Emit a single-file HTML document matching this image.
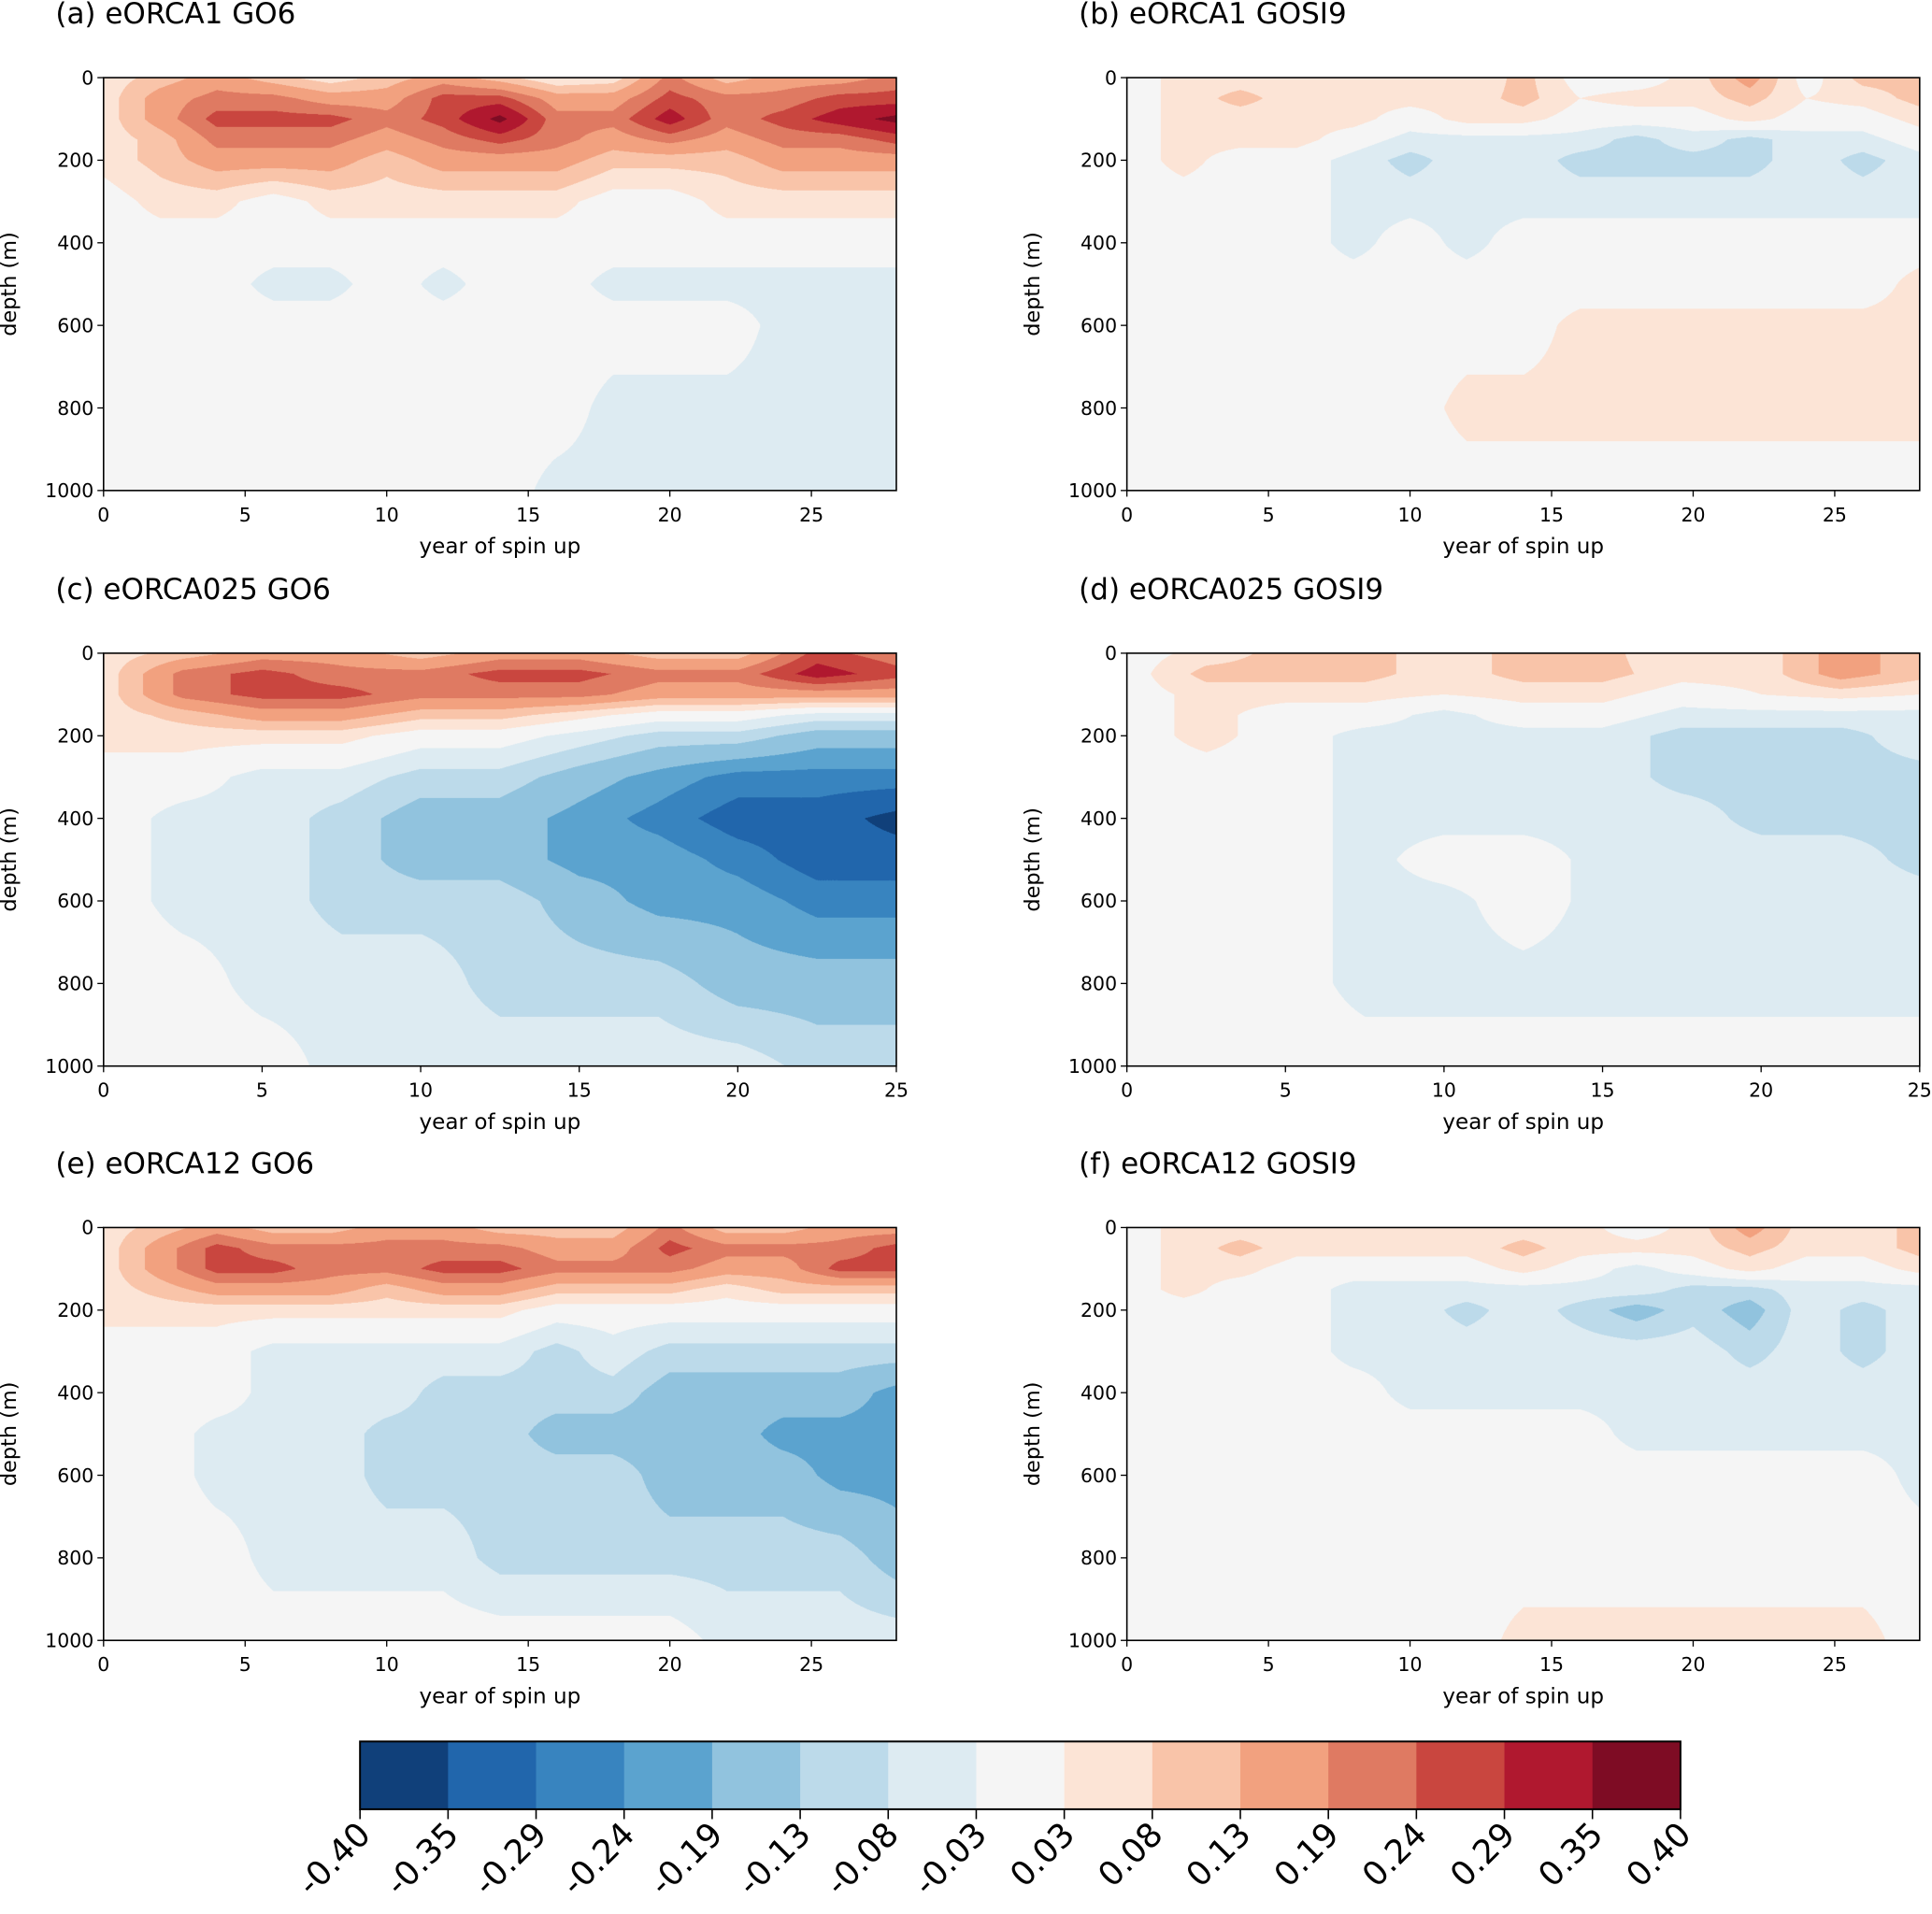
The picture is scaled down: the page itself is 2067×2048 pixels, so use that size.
<!DOCTYPE html>
<html><head><meta charset="utf-8">
<style>
html,body{margin:0;padding:0;background:#fff;}
#root{position:absolute;left:0;top:0;width:1567px;height:1553px;transform:scale(1.31908,1.31874);transform-origin:0 0;}
canvas{position:absolute;}
svg{position:absolute;left:0;top:0;}
text{font-family:"DejaVu Sans","Liberation Sans",sans-serif;fill:#000;}
</style></head>
<body>
<div id="root">
<svg id="ov" width="1567" height="1553" viewBox="0 0 1567 1553"></svg>
</div>
<script>
const LEVELS=[-0.40,-0.35,-0.29,-0.24,-0.19,-0.13,-0.08,-0.03,0.03,0.08,0.13,0.19,0.24,0.29,0.35,0.40];
const LEVEL_LABELS=["-0.40","-0.35","-0.29","-0.24","-0.19","-0.13","-0.08","-0.03","0.03","0.08","0.13","0.19","0.24","0.29","0.35","0.40"];
const COLORS=["#10407a","#2166ac","#3884bf","#5ba3cf","#91c3de","#bcdaea","#ddebf2","#f5f5f5","#fce4d6","#f9c4a9","#f2a17f","#df7a62","#c9463f","#b0182f","#7e0c24"];
const DEPTHS=[0,50,100,150,200,300,400,500,600,800,1000];
const YEARS28=[0,2,4,6,8,10,12,14,16,18,20,22,24,26,28];
const YEARS25=[0,2.5,5,7.5,10,12.5,15,17.5,20,22.5,25];
const Y_TICKS=[0,200,400,600,800,1000];
const X_TICKS28=[0,5,10,15,20,25];
const X_TICKS25=[0,5,10,15,20,25];

const valsA=[
[0.05,0.10,0.16,0.10,0.05,0.10,0.16,0.10,0.03,0.05,0.21,0.10,0.16,0.16,0.21],
[0.05,0.16,0.21,0.21,0.16,0.16,0.26,0.26,0.16,0.16,0.26,0.21,0.21,0.26,0.26],
[0.05,0.16,0.26,0.26,0.26,0.21,0.26,0.37,0.21,0.21,0.32,0.21,0.26,0.32,0.37],
[0.05,0.10,0.21,0.21,0.21,0.16,0.21,0.26,0.21,0.16,0.21,0.16,0.21,0.21,0.26],
[0.05,0.10,0.16,0.16,0.16,0.10,0.16,0.16,0.16,0.10,0.10,0.10,0.16,0.16,0.16],
[0.00,0.05,0.05,0.00,0.05,0.05,0.05,0.05,0.05,0.00,0.00,0.05,0.05,0.05,0.05],
[0,0,0,0,0,0,0,0,0,0,0,0,0,0,0],
[0,0,0,-0.05,-0.05,0,-0.05,0,0,-0.05,-0.05,-0.05,-0.05,-0.05,-0.05],
[0,0,0,0,0,0,0,0,0,0,0,0,-0.05,-0.05,-0.05],
[0,0,0,0,0,0,0,0,0,-0.05,-0.05,-0.05,-0.05,-0.05,-0.05],
[0,0,0,0,0,0,0,0,-0.05,-0.05,-0.05,-0.05,-0.05,-0.05,-0.05]];
const valsB=[
[0,0.05,0.05,0.05,0.05,0.05,0.03,0.10,0,0,0.05,0.16,0,0.10,0.10],
[0,0.05,0.10,0.05,0.05,0.05,0.05,0.10,0.03,0.05,0.05,0.10,0.03,0.05,0.10],
[0,0.05,0.05,0.05,0.05,0,0.05,0.05,0,0,0,0.05,0,0,0.05],
[0,0.05,0.05,0.05,0,-0.05,-0.05,-0.05,-0.05,-0.10,-0.05,-0.10,-0.05,-0.05,0],
[0,0.05,0,0,-0.05,-0.10,-0.05,-0.05,-0.10,-0.10,-0.10,-0.10,-0.05,-0.10,-0.05],
[0,0,0,0,-0.05,-0.05,-0.05,-0.05,-0.05,-0.05,-0.05,-0.05,-0.05,-0.05,-0.05],
[0,0,0,0,-0.05,0,-0.05,0,0,0,0,0,0,0,0],
[0,0,0,0,0,0,0,0,0,0,0,0,0,0,0.05],
[0,0,0,0,0,0,0,0,0.05,0.05,0.05,0.05,0.05,0.05,0.05],
[0,0,0,0,0,0,0.05,0.05,0.05,0.05,0.05,0.05,0.05,0.05,0.05],
[0,0,0,0,0,0,0,0,0,0,0,0,0,0,0]];
const valsC=[
[0.05,0.10,0.16,0.16,0.10,0.16,0.16,0.10,0.10,0.26,0.21],
[0.05,0.21,0.26,0.21,0.21,0.26,0.26,0.21,0.21,0.32,0.26],
[0.05,0.21,0.26,0.26,0.21,0.21,0.21,0.16,0.16,0.16,0.16],
[0.05,0.10,0.16,0.16,0.10,0.10,0.05,0,0,-0.05,-0.05],
[0.05,0.05,0.05,0.05,0,0,-0.05,-0.10,-0.10,-0.16,-0.16],
[0,0,-0.05,-0.05,-0.10,-0.10,-0.16,-0.21,-0.26,-0.26,-0.26],
[0,-0.05,-0.05,-0.10,-0.16,-0.16,-0.21,-0.26,-0.32,-0.32,-0.37],
[0,-0.05,-0.05,-0.10,-0.16,-0.16,-0.21,-0.21,-0.26,-0.32,-0.32],
[0,-0.05,-0.05,-0.10,-0.10,-0.10,-0.16,-0.21,-0.21,-0.26,-0.26],
[0,0,-0.05,-0.05,-0.05,-0.10,-0.10,-0.10,-0.16,-0.16,-0.16],
[0,0,0,-0.05,-0.05,-0.05,-0.05,-0.05,-0.05,-0.10,-0.10]];
const valsD=[
[0,0.05,0.10,0.10,0.05,0.10,0.10,0.03,0.05,0.16,0.10],
[0,0.10,0.10,0.10,0.05,0.10,0.10,0.05,0.05,0.16,0.10],
[0,0.05,0.05,0.05,0.03,0.05,0.05,0,0.03,0.05,0.03],
[0,0.05,0,0,-0.05,0,0,-0.05,-0.05,-0.05,-0.05],
[0,0.05,0,-0.05,-0.05,-0.05,-0.05,-0.10,-0.10,-0.10,-0.05],
[0,0,0,-0.05,-0.05,-0.05,-0.05,-0.10,-0.10,-0.10,-0.10],
[0,0,0,-0.05,-0.05,-0.05,-0.05,-0.05,-0.10,-0.10,-0.10],
[0,0,0,-0.05,0,0,-0.05,-0.05,-0.05,-0.05,-0.10],
[0,0,0,-0.05,-0.05,0,-0.05,-0.05,-0.05,-0.05,-0.05],
[0,0,0,-0.05,-0.05,-0.05,-0.05,-0.05,-0.05,-0.05,-0.05],
[0,0,0,0,0,0,0,0,0,0,0]];
const valsE=[
[0.05,0.10,0.16,0.10,0.10,0.16,0.16,0.10,0.10,0.10,0.21,0.10,0.10,0.16,0.16],
[0.05,0.16,0.26,0.21,0.21,0.21,0.21,0.21,0.16,0.16,0.26,0.21,0.21,0.21,0.26],
[0.05,0.16,0.26,0.26,0.21,0.21,0.26,0.26,0.21,0.21,0.21,0.16,0.16,0.26,0.26],
[0.05,0.10,0.16,0.16,0.16,0.10,0.16,0.16,0.10,0.10,0.10,0.05,0.10,0.10,0.10],
[0.05,0.05,0.05,0.05,0.05,0.05,0.05,0.05,0,0,0,0,0,0,0],
[0,0,0,-0.05,-0.05,-0.05,-0.05,-0.05,-0.10,-0.05,-0.10,-0.10,-0.10,-0.10,-0.10],
[0,0,0,-0.05,-0.05,-0.05,-0.10,-0.10,-0.10,-0.10,-0.16,-0.16,-0.16,-0.16,-0.21],
[0,0,-0.05,-0.05,-0.05,-0.10,-0.10,-0.10,-0.16,-0.16,-0.16,-0.16,-0.21,-0.21,-0.21],
[0,0,-0.05,-0.05,-0.05,-0.10,-0.10,-0.10,-0.10,-0.10,-0.16,-0.16,-0.16,-0.21,-0.21],
[0,0,0,-0.05,-0.05,-0.05,-0.05,-0.10,-0.10,-0.10,-0.10,-0.10,-0.10,-0.10,-0.16],
[0,0,0,0,0,0,0,0,0,0,0,-0.05,-0.05,-0.05,-0.05]];
const valsF=[
[0,0.05,0.05,0.05,0.05,0.05,0.05,0.05,0.05,0,0.05,0.16,0.05,0.05,0.10],
[0,0.05,0.10,0.05,0.05,0.05,0.05,0.10,0.05,0.05,0.05,0.10,0.05,0.05,0.10],
[0,0.05,0.05,0,0,0,0,0.05,0,-0.05,0,0.05,0,0,0.05],
[0,0.05,0,0,-0.05,-0.05,-0.05,-0.05,-0.05,-0.05,-0.10,-0.10,-0.05,-0.05,-0.05],
[0,0,0,0,-0.05,-0.05,-0.10,-0.05,-0.10,-0.16,-0.10,-0.16,-0.05,-0.10,-0.05],
[0,0,0,0,-0.05,-0.05,-0.05,-0.05,-0.05,-0.05,-0.05,-0.10,-0.05,-0.10,-0.05],
[0,0,0,0,0,-0.05,-0.05,-0.05,-0.05,-0.05,-0.05,-0.05,-0.05,-0.05,-0.05],
[0,0,0,0,0,0,0,0,0,-0.05,-0.05,-0.05,-0.05,-0.05,-0.05],
[0,0,0,0,0,0,0,0,0,0,0,0,0,0,-0.05],
[0,0,0,0,0,0,0,0,0,0,0,0,0,0,0],
[0,0,0,0,0,0,0,0.05,0.05,0.05,0.05,0.05,0.05,0.05,0]];

const PANELS=[
 {id:"a",title:"(a) eORCA1 GO6",x:84,y:63,years:YEARS28,vals:valsA,xmax:28,ticks:X_TICKS28},
 {id:"b",title:"(b) eORCA1 GOSI9",x:914,y:63,years:YEARS28,vals:valsB,xmax:28,ticks:X_TICKS28},
 {id:"c",title:"(c) eORCA025 GO6",x:84,y:530,years:YEARS25,vals:valsC,xmax:25,ticks:X_TICKS25},
 {id:"d",title:"(d) eORCA025 GOSI9",x:914,y:530,years:YEARS25,vals:valsD,xmax:25,ticks:X_TICKS25},
 {id:"e",title:"(e) eORCA12 GO6",x:84,y:996,years:YEARS28,vals:valsE,xmax:28,ticks:X_TICKS28},
 {id:"f",title:"(f) eORCA12 GOSI9",x:914,y:996,years:YEARS28,vals:valsF,xmax:28,ticks:X_TICKS28}];
const PW=643,PH=335,RES=2;
const NS="http://www.w3.org/2000/svg";
const root=document.getElementById('root'),ov=document.getElementById('ov');
function mk(tag,attrs,parent){const e=document.createElementNS(NS,tag);for(const k in attrs)e.setAttribute(k,attrs[k]);(parent||ov).appendChild(e);return e;}
function hex(c){return [parseInt(c.substr(1,2),16),parseInt(c.substr(3,2),16),parseInt(c.substr(5,2),16)];}
const RGB=COLORS.map(hex);
function binOf(v){for(let i=0;i<15;i++){if(v<LEVELS[i+1])return i;}return 14;}
function seg(arr,v){let i=0;while(i<arr.length-2&&v>arr[i+1])i++;const t=(v-arr[i])/(arr[i+1]-arr[i]);return [i,Math.max(0,Math.min(1,t))];}

PANELS.forEach(p=>{
  const cv=document.createElement('canvas');
  cv.width=PW*RES;cv.height=PH*RES;
  cv.style.left=p.x+'px';cv.style.top=p.y+'px';cv.style.width=PW+'px';cv.style.height=PH+'px';
  
  
  root.insertBefore(cv,ov);
  const ctx=cv.getContext('2d');const img=ctx.createImageData(cv.width,cv.height);
  for(let py=0;py<cv.height;py++){
    const dep=1000*(py+0.5)/cv.height;const [j,u]=seg(DEPTHS,dep);
    for(let px=0;px<cv.width;px++){
      const yr=p.xmax*(px+0.5)/cv.width;const [i,t]=seg(p.years,yr);
      const v=(1-u)*((1-t)*p.vals[j][i]+t*p.vals[j][i+1])+u*((1-t)*p.vals[j+1][i]+t*p.vals[j+1][i+1]);
      const c=RGB[binOf(v)];const k=(py*cv.width+px)*4;
      img.data[k]=c[0];img.data[k+1]=c[1];img.data[k+2]=c[2];img.data[k+3]=255;
    }
  }
  ctx.putImageData(img,0,0);
  const g=mk('g',{});
  
  
  const tt=mk('text',{x:p.x-39,y:p.y-44,'font-size':23.5},g);tt.textContent=p.title;
  
  
  mk('rect',{x:p.x,y:p.y,width:PW,height:PH,fill:'none',stroke:'#000','stroke-width':1.2},g);
  Y_TICKS.forEach(d=>{const yy=p.y+PH*d/1000;
    mk('line',{x1:p.x-5,x2:p.x,y1:yy,y2:yy,stroke:'#000','stroke-width':1},g);
    const t=mk('text',{x:p.x-8,y:yy+5.5,'font-size':15.5,'text-anchor':'end'},g);t.textContent=d;
    
    });
  p.ticks.forEach(v=>{const xx=p.x+PW*v/p.xmax;
    mk('line',{x1:xx,x2:xx,y1:p.y+PH,y2:p.y+PH+5,stroke:'#000','stroke-width':1},g);
    const t=mk('text',{x:xx,y:p.y+PH+25,'font-size':15.5,'text-anchor':'middle'},g);t.textContent=v;
    
    });
  const xl=mk('text',{x:p.x+PW/2,y:p.y+PH+51,'font-size':17.5,'text-anchor':'middle'},g);xl.textContent='year of spin up';
  
  
  const yl=mk('text',{x:0,y:0,'font-size':17,'text-anchor':'middle',transform:`translate(${p.x-71},${p.y+PH/2}) rotate(-90)`},g);yl.textContent='depth (m)';
  
  
});

// colorbar
const CB={x:292,y:1413,w:1071,h:55};
const cbg=mk('g',{});


COLORS.forEach((c,i)=>{const r=mk('rect',{x:CB.x+CB.w*i/15,y:CB.y,width:CB.w/15+0.5,height:CB.h,fill:c},cbg);
  
  });
mk('rect',{x:CB.x,y:CB.y,width:CB.w,height:CB.h,fill:'none',stroke:'#000','stroke-width':1.5},cbg);
LEVEL_LABELS.forEach((s,i)=>{const xx=CB.x+CB.w*i/15;
  mk('line',{x1:xx,x2:xx,y1:CB.y+CB.h,y2:CB.y+CB.h+8,stroke:'#000','stroke-width':1.2},cbg);
  const t=mk('text',{x:0,y:0,'font-size':27,'text-anchor':'end',transform:`translate(${xx+10},${CB.y+CB.h+22}) rotate(-45)`},cbg);t.textContent=s;
  
  });
</script>
</body></html>
